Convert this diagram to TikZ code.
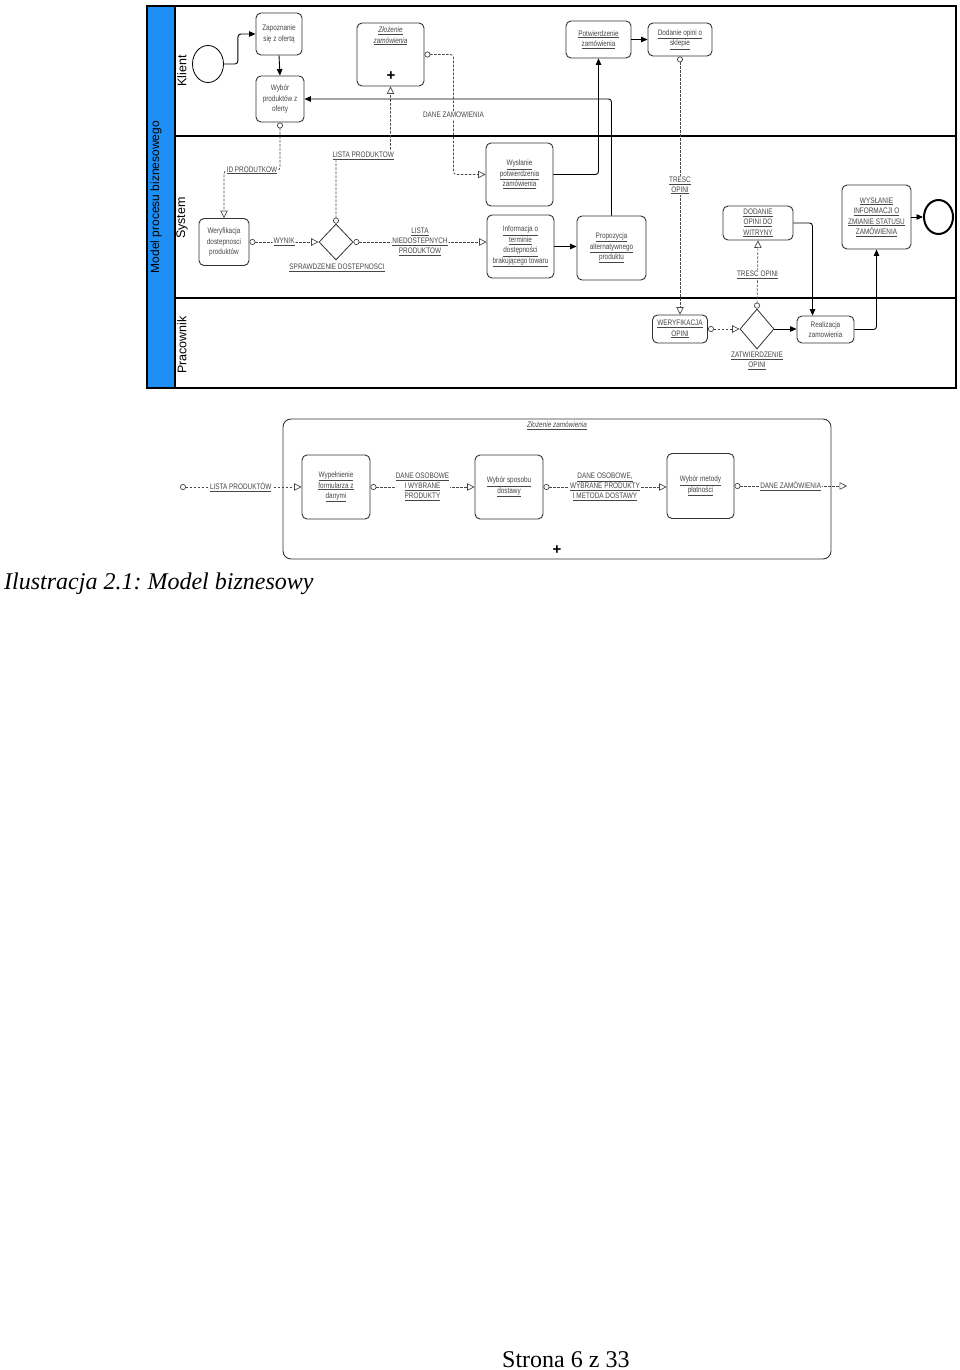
\documentclass[tikz,border=0pt]{standalone}
\usepackage{fontspec}
\setmainfont{Liberation Serif}
\newfontfamily\dia[FakeStretch=0.8]{Liberation Sans}
\newfontfamily\lanefont{Liberation Sans}
\usetikzlibrary{arrows.meta,shapes.geometric}
\definecolor{poolblue}{RGB}{30,144,245}
\definecolor{txtgray}{RGB}{70,70,70}
\definecolor{boxline}{RGB}{50,50,50}
\newcommand{\uln}[1]{\underline{#1}}
\frenchspacing
\begin{document}
\begin{tikzpicture}[x=1pt,y=-1pt,
  task/.style={draw=boxline, line width=0.9pt, rounded corners=5pt, fill=white, text=txtgray, align=center, inner sep=1pt, font=\dia\fontsize{8}{10.5}\selectfont},
  lbl/.style={fill=white, text=txtgray, align=center, inner sep=1pt, font=\dia\fontsize{8}{9.8}\selectfont},
  gate/.style={draw=boxline, line width=0.8pt, diamond, fill=white, inner sep=0pt},
  flow/.style={draw=black, line width=0.9pt, -{Triangle[length=6.5pt,width=5.5pt]}, rounded corners=3pt},
  msg/.style={draw=txtgray, line width=0.7pt, dash pattern=on 2.5pt off 1.5pt, {Circle[open,length=6pt,width=6pt]}-{Triangle[open,length=7.5pt,width=7.5pt]}, rounded corners=3pt},
  lanelbl/.style={font=\lanefont\fontsize{12.5}{14}\selectfont, rotate=90, inner sep=0pt},
  evt/.style={draw=black, ellipse, fill=white, inner sep=0pt},
  plus/.style={font=\lanefont\bfseries\fontsize{15}{15}\selectfont, inner sep=0pt}
]
\useasboundingbox (0,0) rectangle (960,1370);

% ---------- pool ----------
\fill[poolblue] (147,6) rectangle (175,388);
\draw[line width=1.2pt] (147,6) rectangle (956,388);
\draw[line width=1.2pt] (175,6) -- (175,388);
\draw[line width=1.2pt] (175,136) -- (956,136);
\draw[line width=1.2pt] (175,298) -- (956,298);
\node[lanelbl, font=\lanefont\fontsize{12}{14}\selectfont] (pool) at (156,197) {Model procesu biznesowego};
\node[lanelbl] (lk) at (182,71) {Klient};
\node[lanelbl] (ls) at (182,218) {System};
\node[lanelbl] (lp) at (182,345) {Pracownik};

% ---------- Klient ----------
\node[evt, line width=0.8pt, minimum width=31pt, minimum height=37pt] (start) at (208,64) {};
\node[task, minimum width=46pt, minimum height=42pt] (zap) at (279,34) {Zapoznanie\\się z ofertą};
\node[task, minimum width=48pt, minimum height=46pt] (wyb) at (280,99) {Wybór\\produktów z\\oferty};
\node[task, minimum width=67pt, minimum height=63pt] (zloz) at (390.5,54.5) {};
\node[lbl, fill=none, font=\dia\itshape\fontsize{8}{10.5}\selectfont] (zlozt) at (390.5,36) {\uln{Złożenie}\\\uln{zamówienia}};
\node[plus] (zplus) at (391,76) {+};
\node[task, minimum width=65pt, minimum height=37pt] (potw) at (598.5,39.5) {\uln{Potwierdzenie}\\\uln{zamówienia}};
\node[task, minimum width=64pt, minimum height=33pt] (dod) at (680,39.5) {\uln{Dodanie opini o}\\\uln{sklepie}};

% ---------- System ----------
\node[task, minimum width=50pt, minimum height=47pt] (wer) at (224,242) {Weryfikacja\\dostepnosci\\produktów};
\node[gate, minimum width=34pt, minimum height=36pt] (g1) at (336,242) {};
\node[lbl, fill=none] (g1l) at (337,268) {\uln{SPRAWDZENIE DOSTEPNOSCI}};
\node[task, minimum width=67pt, minimum height=63pt] (wysl) at (519.5,174.5) {\uln{Wysłanie}\\\uln{potwierdzenia}\\\uln{zamówienia}};
\node[task, minimum width=67pt, minimum height=63pt] (inf) at (520.5,246.5) {\uln{Informacja o}\\\uln{terminie}\\\uln{dostępności}\\\uln{brakującego towaru}};
\node[task, minimum width=69pt, minimum height=64pt] (prop) at (611.5,248) {\uln{Propozycja}\\\uln{alternatywnego}\\\uln{produktu}};
\node[task, minimum width=70pt, minimum height=34pt] (dodw) at (758,223) {\uln{DODANIE}\\\uln{OPINI DO}\\\uln{WITRYNY}};
\node[task, minimum width=69pt, minimum height=64pt] (wysi) at (876.5,217) {\uln{WYSŁANIE}\\\uln{INFORMACJI O}\\\uln{ZMIANIE STATUSU}\\\uln{ZAMÓWIENIA}};
\node[evt, line width=2pt, minimum width=29pt, minimum height=34pt] (end) at (938.5,217) {};

% ---------- Pracownik ----------
\node[task, minimum width=55pt, minimum height=28pt] (werop) at (680,329) {\uln{WERYFIKACJA}\\\uln{OPINI}};
\node[gate, minimum width=34pt, minimum height=40pt] (g2) at (757,329) {};
\node[lbl, fill=none] (g2l) at (757,361) {\uln{ZATWIERDZENIE}\\\uln{OPINI}};
\node[task, minimum width=57pt, minimum height=27pt] (real) at (825.5,329.5) {Realizacja\\zamowienia};

% ---------- flows ----------
\draw[flow] (start.east) -- ++(14,0) |- (zap.west);
\draw[flow] (zap.south) -- (wyb.north);
\draw[flow] (prop.north) |- (wyb.east);
\draw[flow] (wysl.east) -| (potw.south);
\draw[flow] (potw.east) -- (dod.west);
\draw[flow] (inf.east) -- (inf.east -| prop.west);
\draw[flow] (g2.east) -- (g2.east -| real.west);
\draw[flow] (dodw.east) -| ([xshift=-13pt]real.north);
\draw[flow] (real.east) -| (wysi.south);
\draw[flow] (wysi.east) -- (end.west);

% ---------- messages ----------
\draw[msg] (zloz.east) -- ++(29,0) -- ++(0,60.5) node[lbl] {DANE ZAMOWIENIA} |- (wysl.west);
\draw[msg] (wyb.south) -- ++(0,48) -- node[lbl] {\uln{ID PRODUTKOW}} ++(-56,0) -- (wer.north);
\draw[msg] (g1.north) -- ++(0,-68) -- node[lbl] {\uln{LISTA PRODUKTOW}} ++(54.5,0) -- (zloz.south);
\draw[msg] (wer.east) -- node[lbl] {\uln{WYNIK}} (g1.west);
\draw[msg] (g1.east) -- node[lbl] {\uln{LISTA}\\\uln{NIEDOSTEPNYCH}\\\uln{PRODUKTOW}} (g1.east -| inf.west);
\draw[msg] (dod.south) -- node[lbl] {\uln{TRESC}\\\uln{OPINI}} (werop.north);
\draw[msg] (werop.east) -- (g2.west);
\draw[msg] (g2.north) -- node[lbl] {\uln{TRESC OPINI}} (dodw.south);

% ---------- expanded sub-process ----------
\node[draw=boxline, line width=0.9pt, rounded corners=8pt, minimum width=548pt, minimum height=140pt] (sub) at (557,489) {};
\node[lbl, fill=none, font=\dia\itshape\fontsize{8}{9.8}\selectfont] (subl) at (557,426) {\uln{Złożenie zamówienia}};
\node[plus] (splus) at (557,550) {+};
\node[task, minimum width=68pt, minimum height=64pt] (wyp) at (336,487) {\uln{Wypełnienie}\\\uln{formularza z}\\\uln{danymi}};
\node[task, minimum width=68pt, minimum height=64pt] (wsd) at (509,487) {\uln{Wybór sposobu}\\\uln{dostawy}};
\node[task, minimum width=67pt, minimum height=65pt] (wmp) at (700.5,486) {\uln{Wybór metody}\\\uln{płatności}};
\coordinate (bstart) at (180,487);
\coordinate (bend) at (847,486);
\draw[msg] (bstart) -- node[lbl] {\uln{LISTA PRODUKTÓW}} (wyp.west);
\draw[msg] (wyp.east) -- node[lbl] {\uln{DANE OSOBOWE}\\\uln{I WYBRANE}\\\uln{PRODUKTY}} (wsd.west);
\draw[msg] (wsd.east) -- node[lbl] {\uln{DANE OSOBOWE,}\\\uln{WYBRANE PRODUKTY}\\\uln{I METODA DOSTAWY}} (wsd.east -| wmp.west);
\draw[msg] (wmp.east) -- node[lbl] {\uln{DANE ZAMÓWIENIA}} (bend);

% ---------- caption and footer ----------
\node[anchor=base west, inner sep=0pt, font=\itshape\fontsize{24}{28}\selectfont] (cap) at (4,589) {Ilustracja 2.1: Model biznesowy};
\node[anchor=base west, inner sep=0pt, font=\fontsize{24}{28}\selectfont] (foot) at (502,1367) {Strona 6 z 33};
\end{tikzpicture}
\end{document}
